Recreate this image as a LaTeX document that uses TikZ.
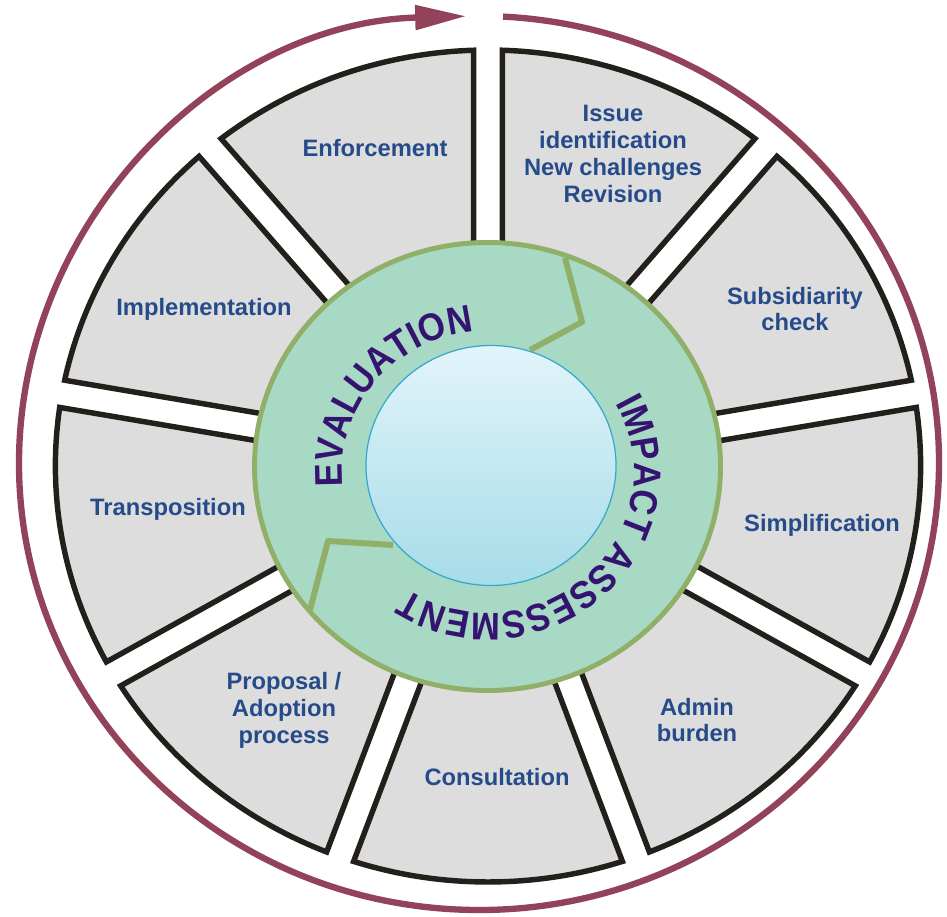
\documentclass[tikz,border=0pt]{standalone}
\usepackage{fontspec}
\setmainfont{Liberation Sans}
\newfontfamily\centfamily[FakeStretch=0.9]{Liberation Sans}
\usetikzlibrary{arrows.meta,decorations.text,calc}

\definecolor{seggray}{RGB}{221,221,221}
\definecolor{segline}{RGB}{35,31,26}
\definecolor{lblblue}{RGB}{38,75,138}
\definecolor{loopred}{RGB}{146,67,90}
\definecolor{ringfill}{RGB}{168,217,197}
\definecolor{ringline}{RGB}{144,176,106}
\definecolor{coreline}{RGB}{55,168,205}
\definecolor{coretop}{RGB}{226,244,250}
\definecolor{corebottom}{RGB}{166,220,233}
\definecolor{evalpurple}{RGB}{52,20,112}

\tikzstyle{sector} = [draw=segline, fill=seggray, line width=3.1pt]
\tikzstyle{lbl} = [text=lblblue, font=\fontsize{13.5}{15.3}\selectfont\bfseries, align=center, inner sep=0pt]
\tikzstyle{loopline} = [draw=loopred, line width=3.6pt, -{Triangle[length=29pt,width=13.5pt]}]
\tikzstyle{ring} = [draw=ringline, fill=ringfill, line width=2.8pt]
\tikzstyle{notch} = [draw=ringline, line width=3.4pt, line join=round]
\tikzstyle{core} = [draw=coreline, line width=0.7pt, top color=coretop, bottom color=corebottom]
\newcommand{\centfont}{\centfamily\fontsize{22}{24}\selectfont\bfseries}

% one grey block of the wheel, #1 = angle of the gap where it starts
\newcommand{\wheelpart}[1]{%
  \draw[sector] ({150*cos(#1)-13.75*sin(#1)},{150*sin(#1)+13.75*cos(#1)})
    -- ({#1+1.9}:416) arc[start angle={#1+1.9}, end angle={#1+38.1}, radius=416]
    -- ({150*cos(#1+40)+13.75*sin(#1+40)},{150*sin(#1+40)-13.75*cos(#1+40)}) -- cycle;}

\begin{document}
\begin{tikzpicture}[x=0.2mm, y=0.2mm]
    \useasboundingbox (0,0) rectangle (947,916);
    \coordinate (rc) at (479,453);
    \coordinate (tc) at (488,444);

    \draw[loopline] ($(rc)+(87:460 and 447)$) arc[start angle=87, end angle=-268.4, x radius=460, y radius=447];

    \begin{scope}[shift={(488,450)}, xscale=1.04]
        \wheelpart{50}
        \wheelpart{90}
        \wheelpart{130}
        \wheelpart{170}
        \wheelpart{210}
        \wheelpart{250}
        \wheelpart{290}
        \wheelpart{330}
        \wheelpart{370}
    \end{scope}

    \draw[ring] (487.5,449.5) ellipse [x radius=233, y radius=224];
    \coordinate (za1) at (565,658);
    \coordinate (za2) at (582,594);
    \coordinate (za3) at (530,566);
    \coordinate (zb1) at (393,371);
    \coordinate (zb2) at (328,375);
    \coordinate (zb3) at (310,306);
    \draw[notch] (za1) -- (za2) -- (za3);
    \draw[notch] (zb1) -- (zb2) -- (zb3);
    \draw[core] (491,450.5) ellipse [x radius=125, y radius=120];

    \path[decorate, decoration={text along path, text color=evalpurple, text={|\centfont|EVALUATION}}]
        ($(tc)+(186:146 and 141)$) arc[start angle=186, end angle=70, x radius=146, y radius=141];
    \path[decorate, decoration={text along path, text color=evalpurple, text={|\centfont|IMPACT ASSESSMENT}}]
        ($(tc)+(29:146 and 141)$) arc[start angle=29, end angle=-145, x radius=146, y radius=141];

    \draw (375,768) node[lbl] (enf) {Enforcement};
    \draw (613,762) node[lbl] (issue) {Issue\\identification\\New challenges\\Revision};
    \draw (795,607) node[lbl] (subs) {Subsidiarity\\check};
    \draw (822,391) node[lbl] (simp) {Simplification};
    \draw (697,196) node[lbl] (admin) {Admin\\burden};
    \draw (497,139) node[lbl] (cons) {Consultation};
    \draw (284,206) node[lbl] (prop) {Proposal /\\Adoption\\process};
    \draw (168,407) node[lbl] (trans) {Transposition};
    \draw (204,607) node[lbl] (impl) {Implementation};
\end{tikzpicture}
\end{document}
